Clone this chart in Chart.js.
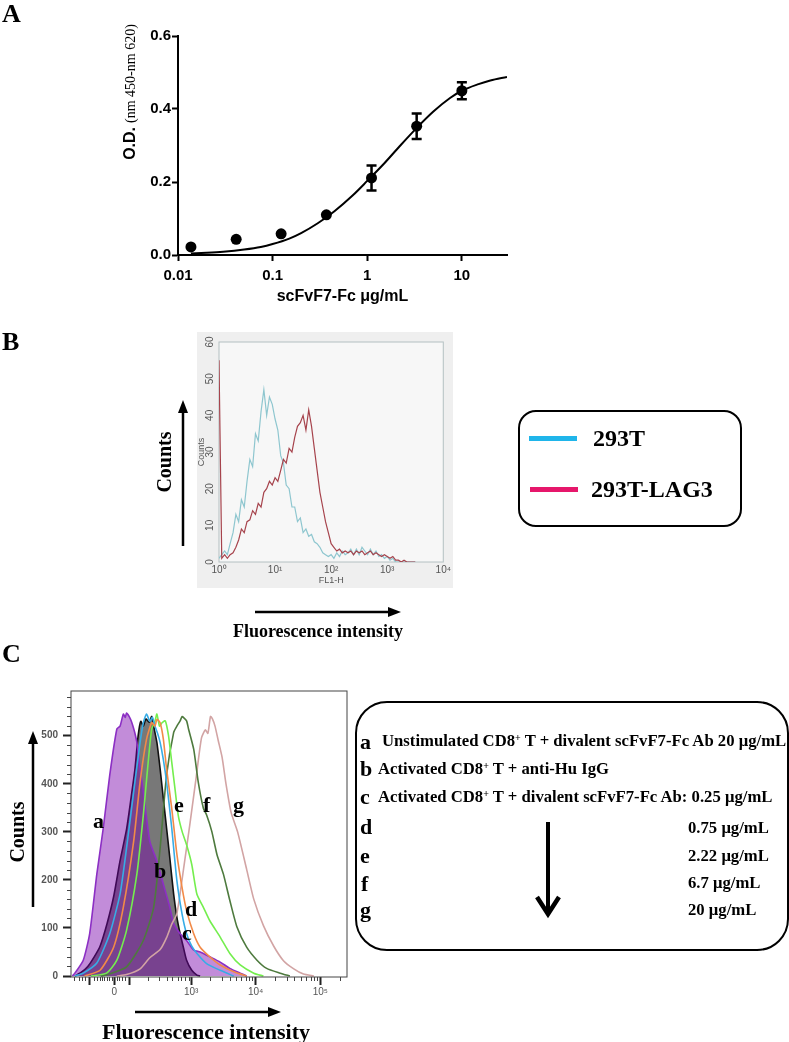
<!DOCTYPE html>
<html>
<head>
<meta charset="utf-8">
<script src="https://cdn.jsdelivr.net/npm/chart.js@4.4.0/dist/chart.umd.min.js"></script>
<style>
  body { margin: 0; background: #fff; }
  #page { position: relative; width: 789px; height: 1042px; overflow: hidden; }
  canvas { position: absolute; }
  .t { position: absolute; white-space: nowrap; font-weight: bold; color: #000; line-height: 1; }
  .serif { font-family: "Liberation Serif", "Times New Roman", serif; }
  .sans { font-family: "Liberation Sans", Arial, sans-serif; }
  .rot { transform: translate(-50%, -50%) rotate(-90deg); }
  .box { position: absolute; box-sizing: border-box; border: 2.5px solid #000; }
  sup { font-size: 60%; vertical-align: 0.55em; line-height: 0; }
</style>
</head>
<body>
<div id="page">
  <canvas id="chartA" width="420" height="300" style="left:100px;top:20px"></canvas>
  <canvas id="chartB" width="256" height="256" style="left:197px;top:332px;background:#efefef"></canvas>
  <canvas id="chartC" width="340" height="320" style="left:20px;top:680px"></canvas>

  <svg width="789" height="1042" style="position:absolute;left:0;top:0">
    <g stroke="#000" stroke-width="2.5" fill="#000">
      <line x1="183" y1="546" x2="183" y2="410"/>
      <polygon points="183,400 178,413 188,413" stroke="none"/>
      <line x1="255" y1="612" x2="390" y2="612"/>
      <polygon points="401,612 388,607 388,617" stroke="none"/>
      <line x1="33" y1="907" x2="33" y2="742"/>
      <polygon points="33,731 28,744 38,744" stroke="none"/>
      <line x1="135" y1="1012" x2="270" y2="1012"/>
      <polygon points="281,1012 268,1007 268,1017" stroke="none"/>
      <line x1="548" y1="822" x2="548" y2="912" stroke-width="4"/>
      <polyline points="537,897 548,914 559,897" fill="none" stroke-width="4.5"/>
    </g>
  </svg>

  <!-- panel letters -->
  <div class="t serif" style="left:2px;top:1px;font-size:26px">A</div>
  <div class="t serif" style="left:2px;top:329px;font-size:26px">B</div>
  <div class="t serif" style="left:2px;top:641px;font-size:26px">C</div>

  <!-- panel A y title -->
  <div class="t rot" style="left:130px;top:92px">
    <span class="sans" style="font-size:16px">O.D.</span>
    <span class="serif" style="font-size:14px;font-weight:normal">(nm 450-nm 620)</span>
  </div>

  <!-- panel B annotations -->
  <div class="t serif rot" style="left:164px;top:462px;font-size:20px">Counts</div>
  <div class="t serif" style="left:318px;top:622px;font-size:18px;transform:translateX(-50%)">Fluorescence intensity</div>
  <div class="box" style="left:518px;top:410px;width:224px;height:117px;border-radius:18px"></div>
  <div style="position:absolute;left:529px;top:436px;width:48px;height:5px;background:#1fb5ea"></div>
  <div style="position:absolute;left:530px;top:487px;width:48px;height:5px;background:#e6176b"></div>
  <div class="t serif" style="left:593px;top:426px;font-size:24px">293T</div>
  <div class="t serif" style="left:591px;top:477px;font-size:24px">293T-LAG3</div>

  <!-- panel C annotations -->
  <div class="t serif rot" style="left:17px;top:832px;font-size:20px">Counts</div>
  <div class="t serif" style="left:206px;top:1021px;font-size:22px;transform:translateX(-50%)">Fluorescence intensity</div>
  <div class="t serif" style="left:93px;top:810px;font-size:22px">a</div>
  <div class="t serif" style="left:154px;top:860px;font-size:22px">b</div>
  <div class="t serif" style="left:182px;top:922px;font-size:22px">c</div>
  <div class="t serif" style="left:185px;top:898px;font-size:22px">d</div>
  <div class="t serif" style="left:174px;top:794px;font-size:22px">e</div>
  <div class="t serif" style="left:203px;top:794px;font-size:22px">f</div>
  <div class="t serif" style="left:233px;top:794px;font-size:22px">g</div>

  <div class="box" style="left:355px;top:701px;width:434px;height:250px;border-radius:32px"></div>
  <div class="t serif" style="left:360px;top:731px;font-size:22px">a</div>
  <div class="t serif" style="left:382px;top:733px;font-size:16.7px">Unstimulated CD8<sup>+</sup> T + divalent scFvF7-Fc Ab 20 μg/mL</div>
  <div class="t serif" style="left:360px;top:758px;font-size:22px">b</div>
  <div class="t serif" style="left:378px;top:761px;font-size:16.7px">Activated CD8<sup>+</sup> T + anti-Hu IgG</div>
  <div class="t serif" style="left:360px;top:786px;font-size:22px">c</div>
  <div class="t serif" style="left:378px;top:789px;font-size:16.7px">Activated CD8<sup>+</sup> T + divalent scFvF7-Fc Ab: 0.25 μg/mL</div>
  <div class="t serif" style="left:360px;top:816px;font-size:22px">d</div>
  <div class="t serif" style="left:360px;top:845px;font-size:22px">e</div>
  <div class="t serif" style="left:361px;top:873px;font-size:22px">f</div>
  <div class="t serif" style="left:360px;top:899px;font-size:22px">g</div>
  <div class="t serif" style="left:688px;top:820px;font-size:16.7px">0.75 μg/mL</div>
  <div class="t serif" style="left:688px;top:848px;font-size:16.7px">2.22 μg/mL</div>
  <div class="t serif" style="left:688px;top:875px;font-size:16.7px">6.7 μg/mL</div>
  <div class="t serif" style="left:688px;top:902px;font-size:16.7px">20 μg/mL</div>
</div>

<script>
// ---- Panel A: ELISA binding curve ----
const odConc = [0.0137, 0.0412, 0.123, 0.370, 1.11, 3.33, 10];
const odMean = [0.022, 0.043, 0.058, 0.110, 0.211, 0.353, 0.450];
const odErr = [0, 0, 0, 0, 0.034, 0.035, 0.023];
const fitConc = [0.0137, 0.02, 0.03, 0.05, 0.075, 0.1, 0.15, 0.2, 0.3, 0.45, 0.7, 1.0, 1.5, 2.2, 3.3, 5, 7.5, 10, 15, 20, 30];
const fitOD = [0.004, 0.006, 0.009, 0.015, 0.022, 0.030, 0.045, 0.060, 0.087, 0.120, 0.163, 0.203, 0.250, 0.298, 0.347, 0.393, 0.430, 0.450, 0.468, 0.478, 0.488];
const odXTicks = [0.01, 0.1, 1, 10];
const odXLabels = ['0.01', '0.1', '1', '10'];
const odYTicks = [0, 0.2, 0.4, 0.6];

// ---- Panel B: FL1-H histograms ----
const bFL1 = [1, 1.12, 1.26, 1.41, 1.58, 1.78, 2, 2.24, 2.51, 2.82,
  3.16, 3.55, 3.98, 4.47, 5.01, 5.62, 6.31, 7.08, 7.94, 8.91,
  10, 11.2, 12.6, 14.1, 15.8, 17.8, 20, 22.4, 25.1, 28.2,
  31.6, 35.5, 39.8, 44.7, 50.1, 56.2, 63.1, 70.8, 79.4, 89.1,
  100, 112, 126, 141, 158, 178, 200, 224, 251, 282,
  316, 355, 398, 447, 501, 562, 631, 708, 794, 891,
  1000, 1122, 1259, 1413, 1585, 1778, 1995, 2239, 2512, 2818, 3162];
const cnt293T = [1, 2, 3, 2, 5, 8, 13, 11, 17, 15,
  22, 28, 26, 35, 33, 41, 47, 40, 45, 43,
  39, 36, 29, 27, 21, 20, 15, 15, 11, 12,
  8, 9, 7, 7.5, 5.5, 5, 4, 2.5, 2, 1.5,
  2, 1, 2.5, 1.5, 3, 2, 2.5, 3.5, 2, 3.5,
  2, 4, 3, 2, 3.5, 2, 3, 1.5, 2, 1,
  1.5, 0.5, 1, 0, 0, 0, 0, 0, 0, 0, 0];
const cnt293TLAG3 = [55, 1, 2, 1, 2, 2.5, 4, 6, 9, 8,
  11, 11.5, 14, 13, 16, 15, 19, 20, 22, 21,
  23, 22, 25, 28, 27, 31, 30, 34, 37, 38,
  40, 36, 41.5, 37, 31, 25, 19, 15, 11, 8,
  5, 4, 3, 3.5, 2.5, 3, 2.5, 3, 2, 3,
  2.5, 3, 2, 2.5, 3, 2, 2.5, 2, 1.5, 2,
  1.5, 1, 1.5, 0.5, 0.5, 0, 0.5, 0, 0, 0, 0];
const bXTicks = [1, 10, 100, 1000, 10000];
const bXLabels = ['10⁰', '10¹', '10²', '10³', '10⁴'];
const bYTicks = [0, 10, 20, 30, 40, 50, 60];

// ---- Panel C: CD8+ T cell staining (x in biexponential display decades) ----
const aPos = [1.16, 1.20, 1.33, 1.43, 1.54, 1.64, 1.74, 1.85, 1.90, 1.95, 1.98, 2.00, 2.04, 2.08, 2.11, 2.13, 2.16, 2.21, 2.26, 2.36, 2.47, 2.57, 2.67, 2.73, 2.83, 2.93, 3.04, 3.14, 3.29, 3.45, 3.60, 3.76, 3.86];
const aCounts = [0, 6, 33, 89, 212, 308, 418, 514, 520, 545, 538, 547, 540, 528, 515, 505, 486, 431, 383, 280, 239, 191, 143, 109, 88, 74, 54, 50, 40, 29, 16, 6, 0];
const bPos = [1.20, 1.30, 1.40, 1.50, 1.59, 1.70, 1.80, 1.90, 2.00, 2.08, 2.13, 2.18, 2.22, 2.26, 2.30, 2.35, 2.39, 2.42, 2.47, 2.52, 2.57, 2.62, 2.67, 2.73, 2.78, 2.83, 2.88, 2.93, 3.01, 3.09, 3.14];
const bCounts = [0, 8, 20, 40, 62, 110, 165, 240, 305, 380, 430, 500, 530, 520, 535, 528, 540, 520, 486, 431, 369, 308, 246, 170, 122, 88, 60, 33, 12, 2, 0];
const cPos = [1.20, 1.33, 1.54, 1.74, 1.90, 2.00, 2.11, 2.21, 2.26, 2.31, 2.36, 2.40, 2.44, 2.48, 2.52, 2.57, 2.62, 2.70, 2.78, 2.86, 2.93, 3.01, 3.09, 3.24, 3.45, 3.66];
const cCounts = [0, 6, 27, 88, 171, 266, 383, 486, 527, 545, 530, 538, 520, 505, 486, 450, 404, 308, 198, 129, 88, 62, 47, 26, 12, 0];
const dPos = [1.35, 1.59, 1.80, 1.95, 2.11, 2.21, 2.31, 2.39, 2.44, 2.47, 2.52, 2.57, 2.62, 2.70, 2.78, 2.86, 2.93, 3.04, 3.14, 3.29, 3.45, 3.66, 3.86];
const dCounts = [0, 12, 60, 143, 280, 404, 493, 527, 520, 534, 527, 493, 431, 349, 253, 184, 136, 88, 60, 40, 23, 9, 0];
const ePos = [1.45, 1.69, 1.85, 2.00, 2.16, 2.26, 2.34, 2.39, 2.44, 2.47, 2.51, 2.55, 2.60, 2.65, 2.70, 2.75, 2.80, 2.86, 2.93, 3.01, 3.09, 3.19, 3.29, 3.45, 3.60, 3.76, 3.97, 4.12];
const eCounts = [0, 6, 33, 95, 212, 335, 452, 514, 530, 545, 520, 527, 531, 500, 445, 390, 335, 301, 273, 232, 170, 143, 115, 81, 47, 23, 6, 0];
const fPos = [1.60, 1.69, 2.00, 2.26, 2.42, 2.52, 2.62, 2.73, 2.78, 2.83, 2.86, 2.88, 2.93, 2.96, 3.04, 3.11, 3.19, 3.24, 3.32, 3.40, 3.50, 3.60, 3.71, 3.86, 4.02, 4.17, 4.38, 4.53];
const fCounts = [0, 2, 19, 74, 143, 266, 418, 507, 520, 531, 540, 538, 531, 514, 472, 404, 349, 335, 301, 253, 212, 157, 102, 60, 33, 16, 6, 0];
const gPos = [1.85, 2.00, 2.21, 2.36, 2.52, 2.62, 2.70, 2.78, 2.88, 2.98, 3.08, 3.16, 3.22, 3.26, 3.30, 3.33, 3.37, 3.42, 3.48, 3.54, 3.62, 3.72, 3.86, 3.97, 4.12, 4.28, 4.43, 4.59, 4.74, 4.90];
const gCounts = [0, 3, 15, 38, 55, 80, 108, 130, 220, 315, 415, 495, 512, 505, 540, 535, 520, 490, 455, 400, 340, 300, 222, 160, 105, 62, 32, 15, 4, 0];
const cXMajor = [1.43, 1.81, 2.04, 3, 4, 5];
const cXLabels = ['', '0', '', '10³', '10⁴', '10⁵'];
const cXMinor = [1.18, 1.26, 1.31, 1.36, 1.50, 1.55, 1.59, 1.62, 1.65, 1.69, 1.73, 1.77, 1.85, 1.89, 1.93, 1.97,
  2.33, 2.50, 2.62, 2.71, 2.79, 2.85, 2.91, 2.96, 3.30, 3.48, 3.60, 3.70, 3.78, 3.85, 3.90, 3.95,
  4.30, 4.48, 4.60, 4.70, 4.78, 4.85, 4.90, 4.95, 5.30];
const cYMajor = [0, 100, 200, 300, 400, 500];
const cYMinor = [20, 40, 60, 80, 120, 140, 160, 180, 220, 240, 260, 280, 320, 340, 360, 380, 420, 440, 460, 480, 520, 540, 560, 580];

const SANS = '"Liberation Sans", Arial, sans-serif';
Chart.defaults.font.family = SANS;
Chart.defaults.animation = false;

const pts = (xs, ys) => xs.map((x, i) => ({ x: x, y: ys[i] }));

// error bars for panel A, drawn through the chart scales
const errorBars = {
  id: 'errorBars',
  afterDatasetsDraw(chart) {
    const { ctx, scales: { x, y } } = chart;
    ctx.save();
    ctx.strokeStyle = '#000';
    ctx.lineWidth = 2.5;
    odConc.forEach((c, i) => {
      if (!odErr[i]) return;
      const px = x.getPixelForValue(c);
      const top = y.getPixelForValue(odMean[i] + odErr[i]);
      const bot = y.getPixelForValue(odMean[i] - odErr[i]);
      ctx.beginPath();
      ctx.moveTo(px, top); ctx.lineTo(px, bot);
      ctx.moveTo(px - 5, top); ctx.lineTo(px + 5, top);
      ctx.moveTo(px - 5, bot); ctx.lineTo(px + 5, bot);
      ctx.stroke();
    });
    ctx.restore();
  }
};

// plot frame, inner fill and minor ticks for the flow panels
const frame = {
  id: 'frame',
  beforeDatasetsDraw(chart, args, o) {
    const { ctx, chartArea: a } = chart;
    ctx.save();
    if (o.fill) {
      ctx.fillStyle = o.fill;
      ctx.fillRect(a.left, a.top, a.right - a.left, a.bottom - a.top);
    }
    if (!o.onTop) {
      ctx.strokeStyle = o.color; ctx.lineWidth = o.width;
      ctx.strokeRect(a.left, a.top, a.right - a.left, a.bottom - a.top);
    }
    ctx.restore();
  },
  afterDraw(chart, args, o) {
    const { ctx, chartArea: a, scales: { x, y } } = chart;
    ctx.save();
    if (o.onTop) {
      ctx.strokeStyle = o.color; ctx.lineWidth = o.width;
      ctx.strokeRect(a.left, a.top, a.right - a.left, a.bottom - a.top);
    }
    ctx.strokeStyle = o.color; ctx.lineWidth = 1;
    ctx.beginPath();
    (o.xMinor || []).forEach(v => {
      const px = Math.round(x.getPixelForValue(v)) + 0.5;
      ctx.moveTo(px, a.bottom); ctx.lineTo(px, a.bottom + o.minorLen);
    });
    (o.yMinor || []).forEach(v => {
      const py = Math.round(y.getPixelForValue(v)) + 0.5;
      ctx.moveTo(a.left, py); ctx.lineTo(a.left - o.minorLen, py);
    });
    ctx.stroke();
    ctx.restore();
  }
};

// Panel A
new Chart(document.getElementById('chartA'), {
  type: 'line',
  data: {
    datasets: [
      { type: 'scatter', data: pts(odConc, odMean), pointRadius: 5.5, pointBackgroundColor: '#000', pointBorderWidth: 0, showLine: false, order: 1 },
      { data: pts(fitConc, fitOD), borderColor: '#000', borderWidth: 2, pointRadius: 0, cubicInterpolationMode: 'monotone', fill: false, order: 2 }
    ]
  },
  options: {
    responsive: false,
    events: [],
    layout: { padding: { top: 16, right: 13, left: 0, bottom: 0 } },
    plugins: { legend: { display: false }, tooltip: { enabled: false } },
    scales: {
      x: {
        type: 'logarithmic', min: 0.01, max: 30,
        afterBuildTicks: s => { s.ticks = odXTicks.map(v => ({ value: v })); },
        afterFit: s => { s.height = 65; },
        grid: { display: true, drawOnChartArea: false, tickLength: 6, tickWidth: 2, tickColor: '#000' },
        border: { display: true, width: 2, color: '#000' },
        ticks: { color: '#000', font: { size: 15, weight: 'bold' }, padding: 6, maxRotation: 0, callback: (v, i) => odXLabels[i] },
        title: { display: true, text: 'scFvF7-Fc μg/mL', color: '#000', font: { size: 16, weight: 'bold' }, padding: { top: 0, bottom: 14 } }
      },
      y: {
        min: 0, max: 0.6,
        afterBuildTicks: s => { s.ticks = odYTicks.map(v => ({ value: v })); },
        afterFit: s => { s.width = 78; },
        grid: { display: true, drawOnChartArea: false, tickLength: 6, tickWidth: 2, tickColor: '#000' },
        border: { display: true, width: 2, color: '#000' },
        ticks: { color: '#000', font: { size: 15, weight: 'bold' }, padding: 1, callback: v => v.toFixed(1) }
      }
    }
  },
  plugins: [errorBars]
});

// Panel B
new Chart(document.getElementById('chartB'), {
  type: 'line',
  data: {
    datasets: [
      { label: '293T', data: pts(bFL1, cnt293T), borderColor: '#8ec6cf', borderWidth: 1.2, pointRadius: 0, tension: 0, order: 2 },
      { label: '293T-LAG3', data: pts(bFL1, cnt293TLAG3), borderColor: '#a6434c', borderWidth: 1.2, pointRadius: 0, tension: 0, order: 1 }
    ]
  },
  options: {
    responsive: false,
    events: [],
    layout: { padding: { top: 10, right: 9, left: 0, bottom: 0 } },
    plugins: {
      legend: { display: false }, tooltip: { enabled: false },
      frame: { fill: '#f7f7f7', color: '#b4c0c2', width: 1, onTop: false, minorLen: 0 }
    },
    scales: {
      x: {
        type: 'logarithmic', min: 1, max: 10000,
        afterBuildTicks: s => { s.ticks = bXTicks.map(v => ({ value: v })); },
        afterFit: s => { s.height = 26; },
        grid: { display: false, drawTicks: false, tickLength: 0 },
        border: { display: false },
        ticks: { color: '#555', font: { size: 10 }, padding: 2, maxRotation: 0, callback: (v, i) => bXLabels[i] },
        title: { display: true, text: 'FL1-H', color: '#555', font: { size: 9, lineHeight: 1 }, padding: { top: 0, bottom: 3 } }
      },
      y: {
        min: 0, max: 60,
        afterBuildTicks: s => { s.ticks = bYTicks.map(v => ({ value: v })); },
        afterFit: s => { s.width = 22; },
        grid: { display: false, drawTicks: false, tickLength: 0 },
        border: { display: false },
        ticks: { color: '#555', font: { size: 10 }, padding: 3, minRotation: 90, maxRotation: 90, crossAlign: 'center' },
        title: { display: true, text: 'Counts', color: '#555', font: { size: 9, lineHeight: 1 }, padding: 0 }
      }
    }
  },
  plugins: [frame]
});

// Panel C
const cSets = [
  { key: 'b', x: bPos, y: bCounts, line: '#111111', fill: '#787878', order: 10 },
  { key: 'a', x: aPos, y: aCounts, line: '#8c2fc4', fill: 'rgba(120,0,170,0.45)', order: 9 },
  { key: 'g', x: gPos, y: gCounts, line: '#d2a4a4', order: 8 },
  { key: 'f', x: fPos, y: fCounts, line: '#4e7a3e', order: 7 },
  { key: 'e', x: ePos, y: eCounts, line: '#74ee4e', order: 6 },
  { key: 'c', x: cPos, y: cCounts, line: '#37ace6', order: 5 },
  { key: 'd', x: dPos, y: dCounts, line: '#f28a48', order: 4 }
];
new Chart(document.getElementById('chartC'), {
  type: 'line',
  data: {
    datasets: cSets.map(s => ({
      label: s.key,
      data: pts(s.x, s.y),
      borderColor: s.line,
      borderWidth: 1.6,
      backgroundColor: s.fill || 'transparent',
      fill: s.fill ? 'origin' : false,
      pointRadius: 0,
      tension: 0.2,
      order: s.order
    }))
  },
  options: {
    responsive: false,
    events: [],
    layout: { padding: { top: 8, right: 13, left: 0, bottom: 0 } },
    plugins: {
      legend: { display: false }, tooltip: { enabled: false },
      frame: { color: '#444', width: 1, onTop: true, minorLen: 4, xMinor: cXMinor, yMinor: cYMinor }
    },
    scales: {
      x: {
        type: 'linear', min: 1.14, max: 5.414,
        afterBuildTicks: s => { s.ticks = cXMajor.map(v => ({ value: v })); },
        afterFit: s => { s.height = 23; },
        grid: { display: true, drawOnChartArea: false, tickLength: 8, tickWidth: 2, tickColor: '#222' },
        border: { display: false },
        ticks: { color: '#555', font: { size: 10 }, padding: 1, maxRotation: 0, autoSkip: false, callback: (v, i) => cXLabels[i] }
      },
      y: {
        min: -2, max: 593,
        afterBuildTicks: s => { s.ticks = cYMajor.map(v => ({ value: v })); },
        afterFit: s => { s.width = 51; },
        grid: { display: true, drawOnChartArea: false, tickLength: 8, tickWidth: 2, tickColor: '#222' },
        border: { display: false },
        ticks: { color: '#555', font: { size: 10, weight: 'bold' }, padding: 5, callback: v => String(v) }
      }
    }
  },
  plugins: [frame]
});
</script>
</body>
</html>
